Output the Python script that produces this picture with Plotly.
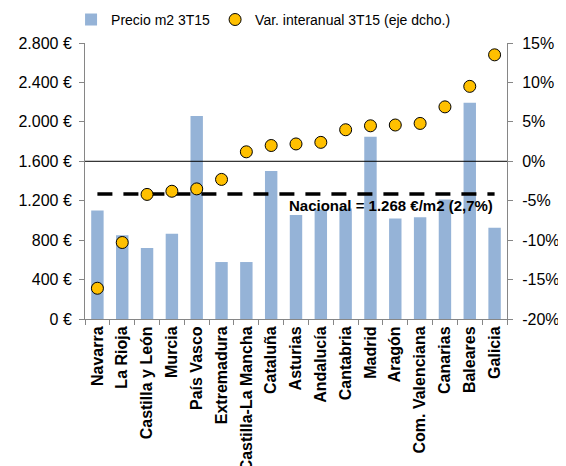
import plotly.graph_objects as go

regiones = ["Navarra", "La Rioja", "Castilla y León", "Murcia", "País Vasco",
            "Extremadura", "Castilla-La Mancha", "Cataluña", "Asturias", "Andalucía",
            "Cantabria", "Madrid", "Aragón", "Com. Valenciana", "Canarias",
            "Baleares", "Galicia"]
precio_m2 = [1100, 850, 720, 865, 2060, 578, 578, 1502, 1056, 1110,
             1120, 1850, 1020, 1033, 1212, 2193, 925]
var_interanual = [-16.1, -10.3, -4.2, -3.8, -3.5, -2.3, 1.2, 2.0, 2.2, 2.4,
                  4.0, 4.5, 4.6, 4.8, 6.9, 9.5, 13.5]
nacional_precio = 1268
nacional_label = "Nacional = 1.268 €/m2 (2,7%)"

left_ticks = [0, 400, 800, 1200, 1600, 2000, 2400, 2800]
left_labels = ["0 €", "400 €", "800 €", "1.200 €", "1.600 €", "2.000 €", "2.400 €", "2.800 €"]
right_ticks = [-20, -15, -10, -5, 0, 5, 10, 15]
right_labels = ["-20%", "-15%", "-10%", "-5%", "0%", "5%", "10%", "15%"]

FONT = "Liberation Sans, Arial, sans-serif"
AXIS_GRAY = "#868686"

fig = go.Figure()
fig.add_trace(go.Bar(
    x=regiones, y=precio_m2, name="Precio m2 3T15",
    marker=dict(color="#95B3D7", line=dict(width=0)),
    width=0.5, yaxis="y",
))
fig.add_trace(go.Scatter(
    x=regiones, y=[nacional_precio] * len(regiones), mode="lines",
    line=dict(color="black", width=3.5, dash="15px,11px"),
    showlegend=False, yaxis="y", hoverinfo="skip",
))
fig.add_trace(go.Scatter(
    x=regiones, y=var_interanual, name="Var. interanual 3T15 (eje dcho.)",
    mode="markers", yaxis="y2",
    marker=dict(color="#FFC000", size=12, line=dict(color="black", width=1)),
))

fig.add_shape(type="line", xref="paper", yref="y2", x0=0, x1=1, y0=0, y1=0,
              line=dict(color="black", width=1), layer="above")

fig.add_annotation(x="Galicia", y=1147, xref="x", yref="y", text="<b>" + nacional_label + "</b>",
                   showarrow=False, xanchor="right", yanchor="middle",
                   font=dict(family=FONT, size=15, color="black"))

fig.update_layout(
    width=558, height=458,
    margin=dict(l=77, r=59, t=35, b=147, autoexpand=False),
    paper_bgcolor="white", plot_bgcolor="white",
    font=dict(family=FONT, size=16, color="black"),
    showlegend=True,
    legend=dict(orientation="h", xref="container", yref="container",
                x=0.113, xanchor="left", y=0.974, yanchor="middle",
                font=dict(size=14), bgcolor="rgba(0,0,0,0)", itemwidth=30),
    xaxis=dict(
        type="category", range=[-0.5, len(regiones) - 0.5],
        showgrid=False, showline=True, linecolor=AXIS_GRAY, linewidth=1,
        ticks="outside", tickson="boundaries", ticklen=5, tickcolor=AXIS_GRAY,
        tickangle=-90, automargin=False,
        tickfont=dict(family=FONT, size=16, color="black", weight="bold"),
    ),
    yaxis=dict(
        range=[0, 2800], tickvals=left_ticks, ticktext=left_labels, showgrid=False,
        zeroline=False, showline=True, linecolor=AXIS_GRAY, linewidth=1, automargin=False,
        ticks="outside", ticklen=5, tickcolor=AXIS_GRAY, tickfont=dict(size=16),
        ticklabelstandoff=4,
    ),
    yaxis2=dict(
        range=[-20, 15], tickvals=right_ticks, ticktext=right_labels, overlaying="y",
        side="right", showgrid=False, zeroline=False, showline=True, linecolor=AXIS_GRAY,
        linewidth=1, automargin=False, ticks="outside", ticklen=5, tickcolor=AXIS_GRAY,
        tickfont=dict(size=16), ticklabelstandoff=6,
    ),
)

fig.write_html("out.html")
